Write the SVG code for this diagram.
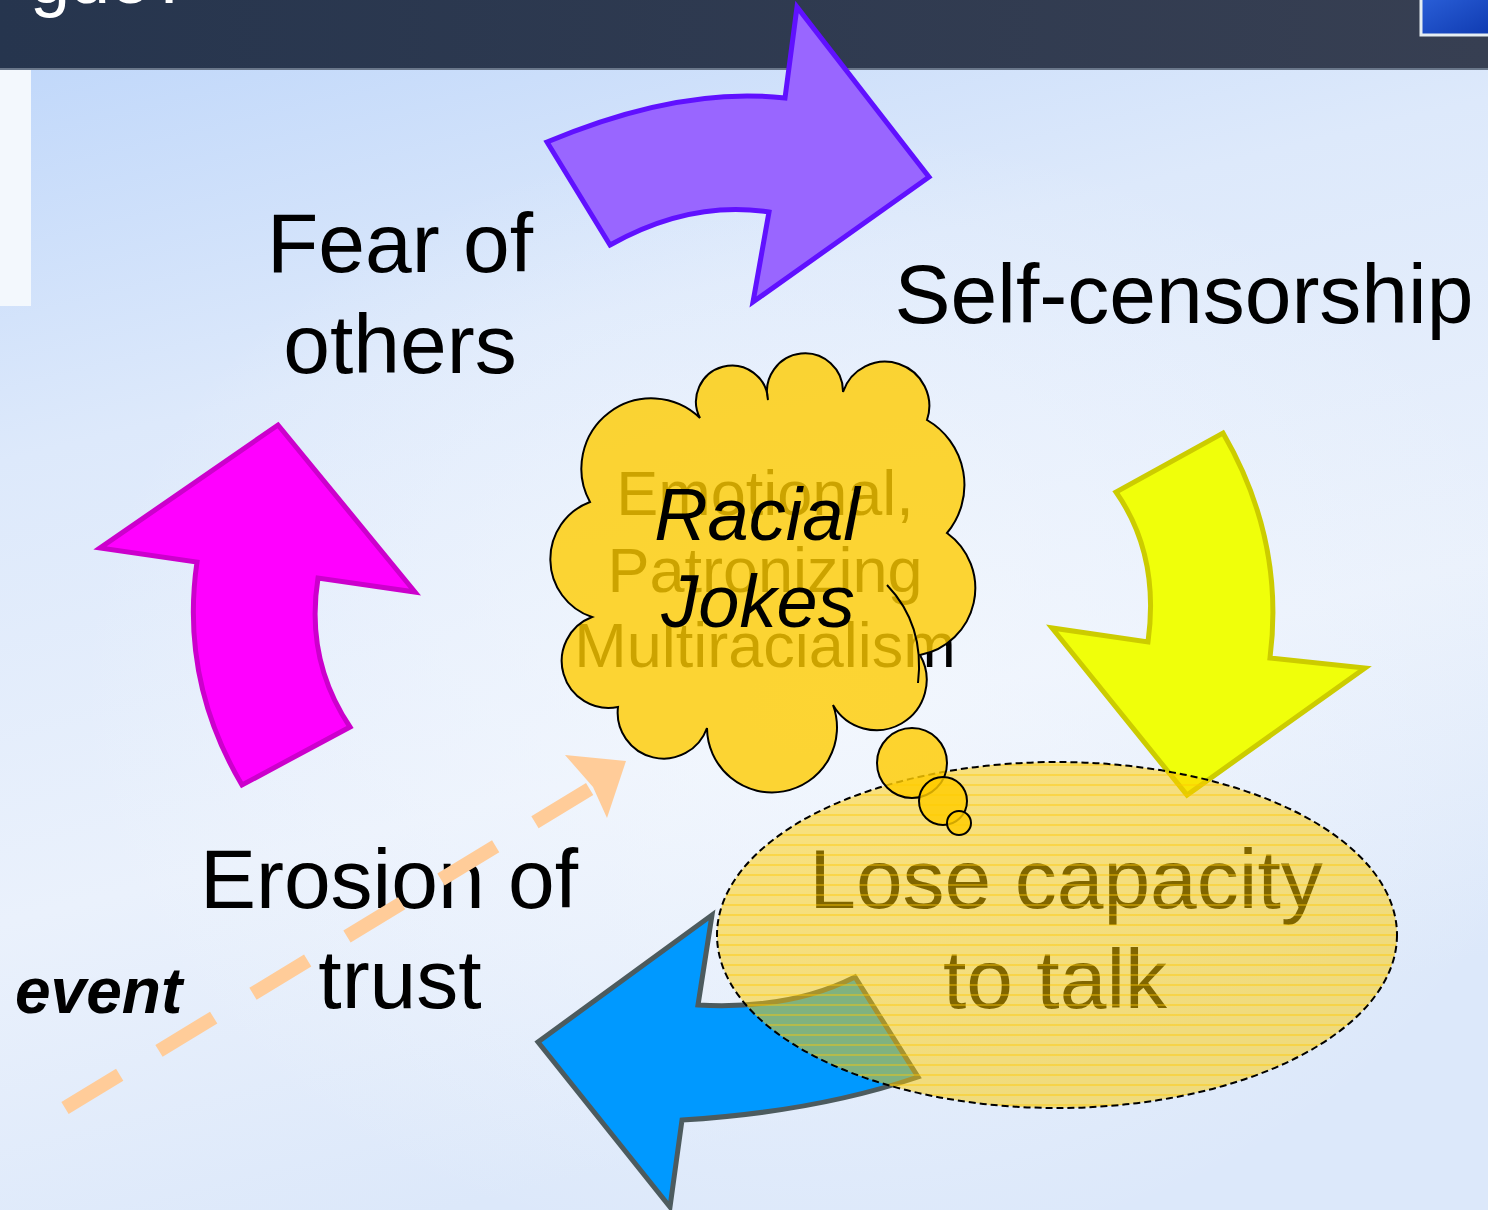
<svg xmlns="http://www.w3.org/2000/svg" width="1488" height="1210" viewBox="0 0 1488 1210">
<style>
.lbl{font-family:"Liberation Sans",Arial,sans-serif;font-size:84px;fill:#000;text-anchor:middle}
.fade{font-family:"Liberation Sans",Arial,sans-serif;font-size:63px;fill:#000;text-anchor:middle}
.joke{font-family:"Liberation Sans",Arial,sans-serif;font-size:74px;font-style:italic;fill:#000;text-anchor:middle}
.arrow{stroke-width:5;stroke-linejoin:miter}
.bub{fill:#ffcc00;fill-opacity:0.82;stroke:#000;stroke-width:2}
</style>
<defs>
<linearGradient id="bg" x1="0" y1="0" x2="0.3" y2="1">
<stop offset="0" stop-color="#bcd5fa"/>
<stop offset="0.35" stop-color="#dde9fb"/>
<stop offset="0.7" stop-color="#eaf1fc"/>
<stop offset="1" stop-color="#dce8fa"/>
</linearGradient>
<radialGradient id="glow" cx="0.55" cy="0.55" r="0.5">
<stop offset="0" stop-color="#f4f8fe" stop-opacity="0.8"/>
<stop offset="1" stop-color="#f4f8fe" stop-opacity="0"/>
</radialGradient>
<linearGradient id="hdr" x1="0" y1="0" x2="1" y2="0">
<stop offset="0" stop-color="#26354e"/>
<stop offset="1" stop-color="#373f52"/>
</linearGradient>
<linearGradient id="pic" x1="0" y1="0" x2="1" y2="1">
<stop offset="0" stop-color="#2a5fd8"/>
<stop offset="1" stop-color="#0f3ab0"/>
</linearGradient>
<pattern id="hl" patternUnits="userSpaceOnUse" width="10" height="10">
<line x1="0" y1="5" x2="10" y2="5" stroke="#ffc800" stroke-width="1.2" stroke-opacity="0.7"/>
</pattern>
</defs>

<g id="background">
<rect x="0" y="0" width="1488" height="1210" fill="url(#bg)"/>
<rect x="0" y="70" width="1488" height="1140" fill="url(#glow)"/>
<rect x="0" y="70" width="31" height="236" fill="#f3f8fd"/>
</g>

<g id="header">
<rect x="0" y="0" width="1488" height="69" fill="url(#hdr)"/>
<rect x="0" y="68" width="1488" height="2" fill="#6a778a"/>
<text x="30" y="3" font-family="Liberation Sans, Arial, sans-serif" font-size="72" fill="#ffffff">gue?</text>
<rect x="1421" y="-3" width="70" height="38" fill="url(#pic)" stroke="#e6eef2" stroke-width="3"/>
</g>

<g id="connectors">
<path id="arrow-top" class="arrow" fill="#9966ff" stroke="#6011ff" d="M547,142 Q680,86 785,98 L797,7 L929,177 L753,302 L769,212 Q690,200 610,245 Z"/>
<path id="arrow-right" class="arrow" fill="#f0ff0a" stroke="#cccc00" d="M1223,433 Q1285,540 1270,658 L1365,668 L1187,795 L1052,628 L1148,642 Q1160,555 1116,492 Z"/>
<path id="arrow-bottom" class="arrow" fill="#0099ff" stroke="#4d5b5e" d="M712,915 L698,1005 Q790,1010 855,977 L918,1077 Q815,1112 682,1120 L670,1207 L538,1042 Z"/>
<path id="arrow-left" class="arrow" fill="#ff00ff" stroke="#cc00cc" d="M278,425 L415,592 L318,578 Q305,660 350,727 L242,785 Q180,680 197,562 L100,548 Z"/>
</g>

<g id="node-fear">
<text class="lbl" x="400" y="272">Fear of</text>
<text class="lbl" x="400" y="373">others</text>
</g>
<g id="node-self">
<text class="lbl" x="1184" y="323">Self-censorship</text>
</g>
<g id="node-erosion">
<text class="lbl" x="389" y="908">Erosion of</text>
<text class="lbl" x="400" y="1008">trust</text>
</g>
<g id="node-event">
<text x="15" y="1013" font-family="Liberation Sans, Arial, sans-serif" font-size="64" font-weight="bold" font-style="italic" fill="#000">event</text>
</g>

<g id="event-arrow">
<path d="M65,1108 L593,787" fill="none" stroke="#ffcc99" stroke-width="14" stroke-dasharray="64 46"/>
<polygon points="565,755 626,761 607,818 593,787" fill="#ffcc99"/>
</g>

<g id="node-lose">
<text class="lbl" x="1066" y="908">Lose capacity</text>
<text class="lbl" x="1055" y="1008">to talk</text>
<ellipse cx="1057" cy="935" rx="340" ry="173" fill="#ffcc00" fill-opacity="0.5"/>
<ellipse cx="1057" cy="935" rx="340" ry="173" fill="url(#hl)" stroke="#000" stroke-width="2" stroke-dasharray="7 4"/>
</g>

<g id="node-cloud">
<text class="fade" x="765" y="515">Emotional,</text>
<text class="fade" x="765" y="592">Patronizing</text>
<text class="fade" x="765" y="667">Multiracialism</text>
<path d="M592,617 A61,61 0 0 1 590,502 A70,70 0 0 1 700,418 A36,36 0 1 1 768,400 A38,38 0 1 1 843,392 A44,44 0 1 1 927,420 A75,75 0 0 1 947,533 A68,68 0 0 1 920,655 A50,50 0 0 1 833,705 A65,65 0 1 1 707,728 A46,46 0 0 1 618,707 A47,47 0 0 1 592,617 Z" fill="#ffcc00" fill-opacity="0.8" stroke="#000" stroke-width="2"/>
<path d="M887,585 Q925,625 918,683" fill="none" stroke="#000" stroke-width="2"/>
<circle class="bub" cx="912" cy="763" r="35"/>
<circle class="bub" cx="943" cy="801" r="24"/>
<circle class="bub" cx="959" cy="823" r="12"/>
<text class="joke" x="757" y="540">Racial</text>
<text class="joke" x="758" y="627">Jokes</text>
</g>
</svg>
